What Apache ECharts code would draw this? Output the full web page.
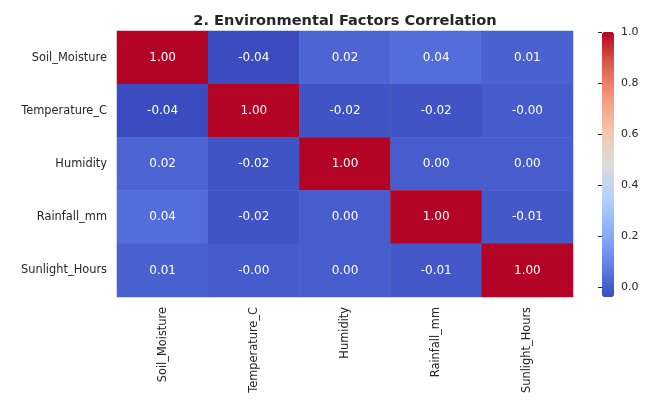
<!DOCTYPE html>
<html><head><meta charset="utf-8">
<script src="https://cdn.jsdelivr.net/npm/echarts@6/dist/echarts.min.js"></script>
<style>html,body{margin:0;padding:0;background:#fff}#c{width:666px;height:406px}</style>
</head><body><div id="c"></div>
<script>
const factors = ['Soil_Moisture','Temperature_C','Humidity','Rainfall_mm','Sunlight_Hours'];
const rowSoil = [1.00, -0.04, 0.02, 0.04, 0.01];
const rowTemp = [-0.04, 1.00, -0.02, -0.02, -0.004];
const rowHum  = [0.02, -0.02, 1.00, 0.00, 0.00];
const rowRain = [0.04, -0.02, 0.00, 1.00, -0.01];
const rowSun  = [0.01, -0.004, 0.00, -0.01, 1.00];
const colorbarTickMin = 0.0, colorbarTickMax = 1.0, colorbarTickStep = 0.2;
const vMin = -0.04, vMax = 1.0;

const rows = [rowSoil, rowTemp, rowHum, rowRain, rowSun];
const data = [];
rows.forEach((r, yi) => r.forEach((v, xi) => data.push([xi, yi, v])));

const font = 'DejaVu Sans';
// colorbar geometry: bar from y=32 spanning 265px for vMin..vMax
const cbTop = 32, cbLen = 265;
const cbTickLen = cbLen * (colorbarTickMax - colorbarTickMin) / (vMax - vMin);

const chart = echarts.init(document.getElementById('c'));
chart.setOption({
  animation: false,
  textStyle: { fontFamily: font },
  title: {
    text: '2. Environmental Factors Correlation',
    left: 340, top: 9, textAlign: 'center',
    textStyle: { fontFamily: font, fontSize: 14.6, fontWeight: 'bold', color: '#262626' }
  },
  grid: [
    { left: 117, right: 93, top: 31, bottom: 109 },
    { left: 602, width: 12, top: cbTop, height: cbTickLen }
  ],
  xAxis: [
    { type: 'category', data: factors, gridIndex: 0,
      axisLine: { show: false }, axisTick: { show: false }, splitLine: { show: false },
      axisLabel: { rotate: 90, color: '#262626', fontSize: 11.4, margin: 10, fontFamily: font } },
    { type: 'value', gridIndex: 1, show: false, min: 0, max: 1 }
  ],
  yAxis: [
    { type: 'category', data: factors, gridIndex: 0, inverse: true,
      axisLine: { show: false }, axisTick: { show: false }, splitLine: { show: false },
      axisLabel: { color: '#262626', fontSize: 11.4, margin: 10, fontFamily: font } },
    { type: 'value', gridIndex: 1, position: 'right', z: 10,
      min: colorbarTickMin, max: colorbarTickMax, interval: colorbarTickStep,
      axisLine: { show: true, lineStyle: { color: 'rgba(0,0,0,0)' } }, splitLine: { show: false },
      axisTick: { show: true, inside: true, length: 4, lineStyle: { color: '#262626', width: 1 } },
      axisLabel: { color: '#262626', fontSize: 11, margin: 7, fontFamily: font,
        formatter: v => v.toFixed(1) } }
  ],
  visualMap: {
    type: 'continuous', min: vMin, max: vMax, seriesIndex: 0,
    left: 602, top: cbTop, padding: 0, itemWidth: 12, itemHeight: cbLen,
    calculable: false, showLabel: false, text: ['', ''], textGap: 0,
    inRange: { color: ['#3b4cc0','#6282ea','#8db0fe','#b8d0f9','#dddcdc','#f5c4ad','#f49a7b','#de604d','#b40426'] }
  },
  series: [
    { type: 'heatmap', xAxisIndex: 0, yAxisIndex: 0, data: data,
      label: { show: true, color: '#fff', fontSize: 12, fontFamily: font,
        formatter: p => p.value[2].toFixed(2) },
      emphasis: { disabled: true } },
    { type: 'scatter', xAxisIndex: 1, yAxisIndex: 1, data: [[0, colorbarTickMin]], symbolSize: 0, silent: true }
  ]
});
</script></body></html>
